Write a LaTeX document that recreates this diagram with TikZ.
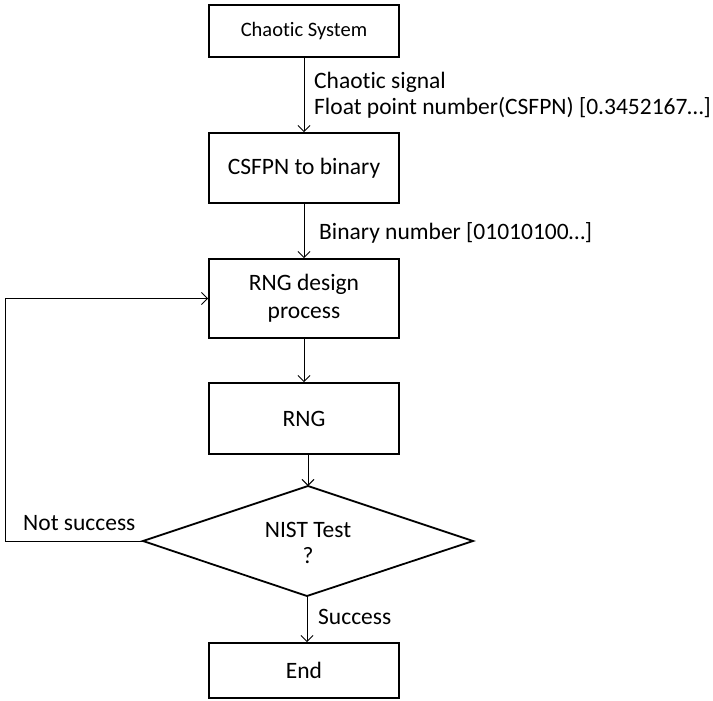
\documentclass[tikz,border=0pt]{standalone}
\usepackage{fontspec}
\setmainfont{Carlito}[Ligatures={NoCommon}]
\usetikzlibrary{arrows.meta}
\begin{document}
\begin{tikzpicture}[x=1pt,y=-1pt,
  box/.style={draw, line width=1.8pt, minimum width=190pt, inner sep=0pt, align=center, font=\fontsize{23.5}{28}\selectfont},
  lbl/.style={anchor=west, inner sep=0pt, font=\fontsize{23.5}{28}\selectfont, align=left},
  conn/.style={line width=0.9pt, -{Straight Barb[length=6pt,width=12pt]}}]
\useasboundingbox (0,0) rectangle (713,701);
\node[box, minimum height=52pt, font=\fontsize{20.5}{24}\selectfont] (cs) at (304,31) {Chaotic System};
\node[box, minimum height=70pt] (bin) at (304,168) {CSFPN to binary};
\node[box, minimum height=79pt] (rdp) at (304,298.5) {RNG design\\process};
\node[box, minimum height=71pt] (rng) at (304,418.5) {RNG};
\draw[line width=1.8pt] (308,486) coordinate (dt) -- (473,541) coordinate (dr) -- (307,596) coordinate (db) -- (143,541) coordinate (dl) -- cycle;
\node[align=center, inner sep=0pt, font=\fontsize{23.5}{26}\selectfont] (nist) at (308,542.5) {NIST Test\\?};
\node[box, minimum height=55pt] (end) at (304,670.5) {End};
\draw[conn] (cs) -- (bin);
\draw[conn] (bin) -- (rdp);
\draw[conn] (rdp) -- (rng);
\draw[conn] (rng.south -| dt) -- (dt);
\draw[conn] (db) -- (end.north -| db);
\coordinate (lp) at (5,541);
\draw[conn] (dl) -- (lp) |- (rdp.west);
\node[lbl] (l1) at (314,82.5) {Chaotic signal};
\node[lbl] (l2) at (314,108) {Float point number(CSFPN) [0.3452167…]};
\node[lbl] (l3) at (319,233) {Binary number [01010100…]};
\node[lbl] (l4) at (23,523) {Not success};
\node[lbl] (l5) at (318,617) {Success};
\end{tikzpicture}
\end{document}
